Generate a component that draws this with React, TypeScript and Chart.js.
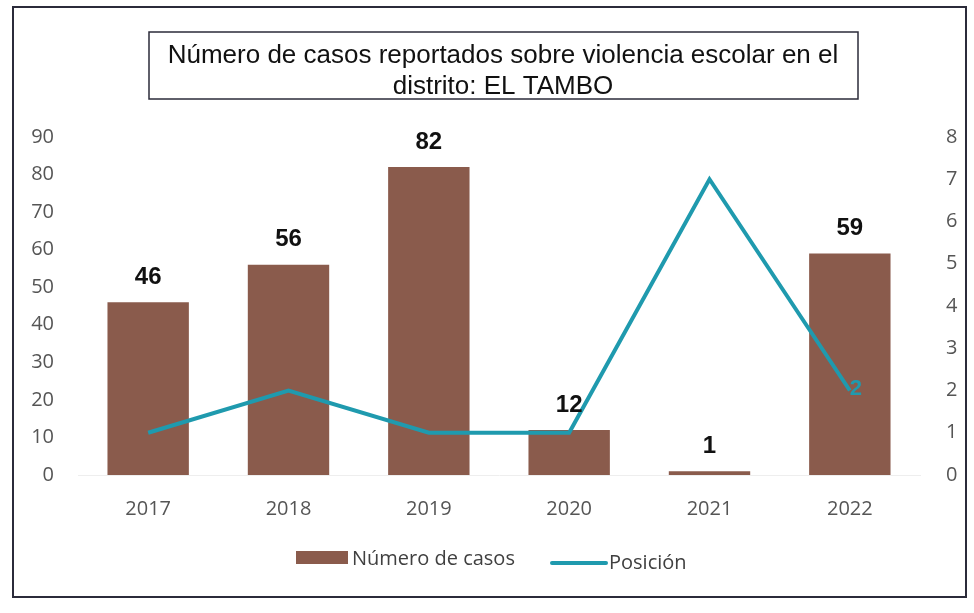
import React, { useEffect, useRef } from "react";
import { Chart, registerables } from "chart.js";

Chart.register(...registerables);

const years = ["2017", "2018", "2019", "2020", "2021", "2022"];
const casos = [46, 56, 82, 12, 1, 59];
const posicion = [1, 2, 1, 1, 7, 2];
const leftTicks = [0, 10, 20, 30, 40, 50, 60, 70, 80, 90];
const rightTicks = [0, 1, 2, 3, 4, 5, 6, 7, 8];
const titleLines = [
  "Número de casos reportados sobre violencia escolar en el",
  "distrito: EL TAMBO",
];
const legendLabels = ["Número de casos", "Posición"];

const BAR_COLOR = "#8A5B4C";
const LINE_COLOR = "#1F9AAE";
const TICK_FONT = "'Open Sans', sans-serif";

const decorPlugin = {
  id: "decor",
  beforeDraw(chart: any) {
    const ctx = chart.ctx;
    ctx.save();
    ctx.fillStyle = "#ffffff";
    ctx.fillRect(0, 0, chart.width, chart.height);
    // outer border
    ctx.strokeStyle = "#2b2b3a";
    ctx.lineWidth = 2;
    ctx.strokeRect(13, 7, 953, 590);
    // title box
    ctx.lineWidth = 1.5;
    ctx.strokeRect(149, 32, 709, 67);
    ctx.fillStyle = "#111111";
    ctx.font = "26px 'Liberation Sans', Arial, sans-serif";
    ctx.textAlign = "center";
    ctx.textBaseline = "middle";
    ctx.fillText(titleLines[0], 503, 56);
    ctx.fillText(titleLines[1], 503, 87);
    ctx.restore();
  },
  afterDatasetsDraw(chart: any) {
    const ctx = chart.ctx;
    ctx.save();
    // bar value labels
    const barMeta = chart.getDatasetMeta(0);
    ctx.fillStyle = "#111111";
    ctx.font = "bold 24px 'Liberation Sans', Arial, sans-serif";
    ctx.textAlign = "center";
    ctx.textBaseline = "middle";
    barMeta.data.forEach((el: any, i: number) => {
      ctx.fillText(String(casos[i]), el.x, el.y - 25);
    });
    // line label only on last point
    const lineMeta = chart.getDatasetMeta(1);
    const last = lineMeta.data[lineMeta.data.length - 1];
    ctx.fillStyle = LINE_COLOR;
    ctx.font = "bold 22px 'Liberation Sans', Arial, sans-serif";
    ctx.fillText(String(posicion[posicion.length - 1]), last.x + 6, last.y - 2);
    // legend
    ctx.fillStyle = BAR_COLOR;
    ctx.fillRect(296, 551, 52, 13);
    ctx.fillStyle = "#404040";
    ctx.font = "20px " + TICK_FONT;
    ctx.textAlign = "left";
    ctx.fillText(legendLabels[0], 352, 559);
    ctx.strokeStyle = LINE_COLOR;
    ctx.lineWidth = 4;
    ctx.lineCap = "round";
    ctx.beginPath();
    ctx.moveTo(552, 563);
    ctx.lineTo(606, 563);
    ctx.stroke();
    ctx.fillText(legendLabels[1], 609, 563);
    ctx.restore();
  },
};

export default function App() {
  const ref = useRef<HTMLCanvasElement>(null);
  useEffect(() => {
    if (!ref.current) return;
    const chart = new Chart(ref.current, {
      type: "bar",
      data: {
        labels: years,
        datasets: [
          {
            type: "bar",
            label: legendLabels[0],
            data: casos,
            backgroundColor: BAR_COLOR,
            yAxisID: "y",
            categoryPercentage: 1,
            barPercentage: 0.58,
            order: 2,
          },
          {
            type: "line",
            label: legendLabels[1],
            data: posicion,
            borderColor: LINE_COLOR,
            backgroundColor: LINE_COLOR,
            borderWidth: 4,
            pointRadius: 0,
            tension: 0,
            yAxisID: "y1",
            order: 1,
          } as any,
        ],
      },
      options: {
        responsive: false,
        animation: false,
        layout: { padding: { top: 137, bottom: 88, left: 0, right: 0 } },
        plugins: {
          legend: { display: false },
          title: { display: false },
          tooltip: { enabled: false },
        },
        scales: {
          x: {
            grid: { display: false },
            border: { display: true, color: "#eeeeee" },
            ticks: {
              color: "#555555",
              font: { family: TICK_FONT, size: 20 },
              padding: 14,
            },
            afterFit(scale: any) {
              scale.height = 50;
            },
          },
          y: {
            position: "left",
            min: 0,
            max: 90,
            grid: { display: false },
            border: { display: false },
            afterBuildTicks(scale: any) {
              scale.ticks = leftTicks.map((v) => ({ value: v }));
            },
            ticks: {
              color: "#555555",
              font: { family: TICK_FONT, size: 20 },
              padding: 16,
            },
            afterFit(scale: any) {
              scale.width = 78;
            },
          },
          y1: {
            position: "right",
            min: 0,
            max: 8,
            grid: { display: false },
            border: { display: false },
            afterBuildTicks(scale: any) {
              scale.ticks = rightTicks.map((v) => ({ value: v }));
            },
            ticks: {
              color: "#555555",
              font: { family: TICK_FONT, size: 20 },
              padding: 18,
            },
            afterFit(scale: any) {
              scale.width = 54;
            },
          },
        },
      },
      plugins: [decorPlugin],
    });
    return () => chart.destroy();
  }, []);
  return (
    <div style={{ position: "fixed", left: 0, top: 0, width: 974, height: 613 }}>
      <canvas ref={ref} width={974} height={613} />
    </div>
  );
}
